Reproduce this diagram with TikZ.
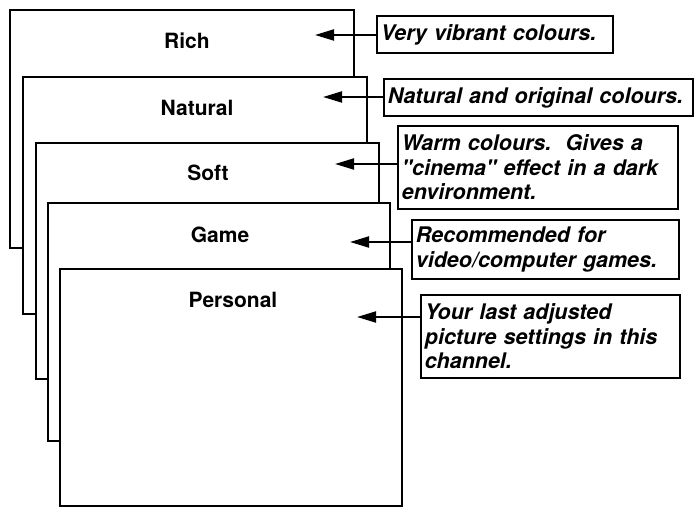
\documentclass[tikz,border=0pt]{standalone}
\usepackage{fontspec}
\setmainfont{TeX Gyre Heros}
\usetikzlibrary{arrows.meta}
\begin{document}
\begin{tikzpicture}[x=1pt,y=-1pt,
  screen/.style={draw, line width=2.2pt, fill=white, anchor=north west, inner sep=0pt},
  title/.style={font=\fontsize{21}{24}\selectfont\bfseries, inner sep=0pt},
  callout/.style={draw, line width=1.8pt, fill=white, anchor=north west, inner xsep=4pt, inner ysep=0pt,
    align=left, font=\fontsize{21.5}{24.5}\selectfont\bfseries\itshape},
  pointer/.style={line width=2pt, -{Triangle[length=19pt,width=11pt]}}]
\useasboundingbox (0,0) rectangle (694,508);

% stacked screens
\node[screen, minimum width=344pt, minimum height=238pt] (sRich) at (9,9) {};
\node[title] (tRich) at (187,41) {Rich};
\node[screen, minimum width=344pt, minimum height=237pt] (sNat) at (22,76) {};
\node[title] (tNat) at (197,108) {Natural};
\node[screen, minimum width=343pt, minimum height=236pt] (sSoft) at (35,142) {};
\node[title] (tSoft) at (208,173) {Soft};
\node[screen, minimum width=342pt, minimum height=238pt] (sGame) at (47,202) {};
\node[title] (tGame) at (220,235) {Game};
\node[screen, minimum width=342pt, minimum height=237pt] (sPers) at (59,268) {};
\node[title] (tPers) at (233,300) {Personal};

% callouts
\node[callout, minimum width=236pt, minimum height=37pt, text width=228pt] (cRich) at (376,15)
  {Very vibrant colours.};
\node[callout, minimum width=309pt, minimum height=37pt, text width=301pt] (cNat) at (383,78)
  {Natural and original colours.};
\node[callout, minimum width=280pt, minimum height=83pt, text width=272pt] (cSoft) at (397,125)
  {Warm colours.\ \ Gives a\\\textquotedbl cinema\textquotedbl{} effect in a dark\\environment.};
\node[callout, minimum width=267pt, minimum height=59pt, text width=259pt] (cGame) at (411,219)
  {Recommended for\\video/computer games.};
\node[callout, minimum width=259pt, minimum height=83pt, text width=251pt] (cPers) at (420,294)
  {Your last adjusted\\picture settings in this\\channel.};

% arrow tips
\coordinate (aRich) at (315,35);
\coordinate (aNat) at (323,97);
\coordinate (aSoft) at (335,164);
\coordinate (aGame) at (350,242);
\coordinate (aPers) at (357,317);

\draw[pointer] (cRich.west |- aRich) -- (aRich);
\draw[pointer] (cNat.west |- aNat) -- (aNat);
\draw[pointer] (cSoft.west |- aSoft) -- (aSoft);
\draw[pointer] (cGame.west |- aGame) -- (aGame);
\draw[pointer] (cPers.west |- aPers) -- (aPers);
\end{tikzpicture}
\end{document}
